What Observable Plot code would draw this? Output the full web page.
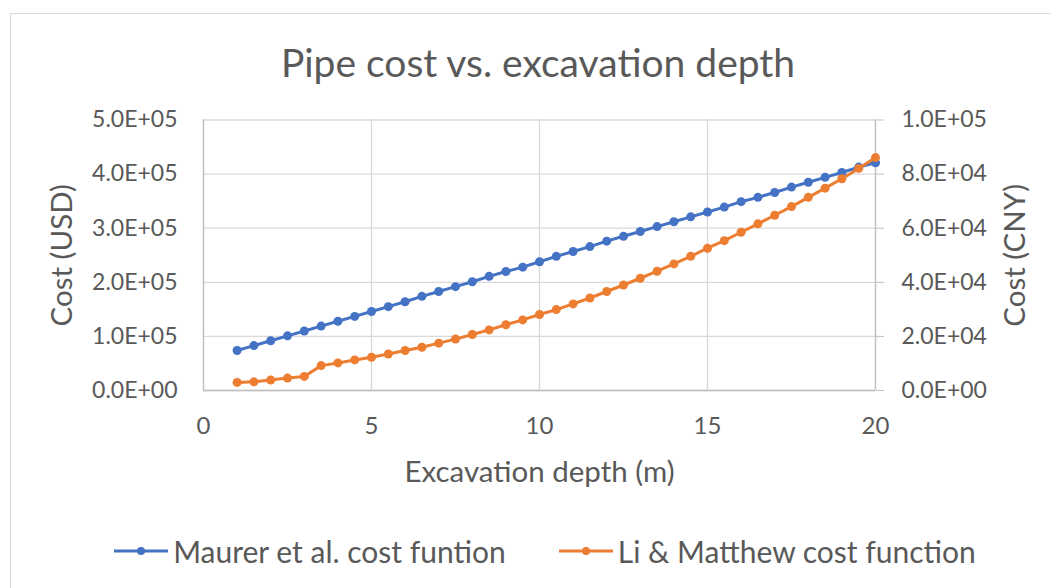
<!DOCTYPE html>
<html>
<head>
<meta charset="utf-8">
<script src="https://cdn.jsdelivr.net/npm/d3@7"></script>
<script src="https://cdn.jsdelivr.net/npm/@observablehq/plot@0.6"></script>
<style>
  html, body { margin: 0; padding: 0; background: #fff; }
  #wrap { position: relative; width: 1051px; height: 588px; overflow: hidden; font-family: Lato, "Open Sans", sans-serif; color: #595959; }
  #border { position: absolute; left: 10px; top: 13px; width: 1200px; height: 800px; border: 1.5px solid #d9d9d9; box-sizing: border-box; pointer-events: none; }
  #title { position: relative; height: 95px; box-sizing: border-box; padding-top: 41px; text-align: center; font-size: 39px; line-height: 42px; padding-left: 25px; white-space: nowrap; }
  #chart { position: relative; height: 410px; }
  #chart svg { display: block; }
  #legend { position: relative; height: 83px; display: flex; align-items: center; justify-content: center; gap: 53px; font-size: 30px; padding-left: 39px; padding-top: 8px; box-sizing: border-box; }
  .item { display: flex; align-items: center; gap: 5px; white-space: nowrap; }
</style>
</head>
<body>
<div id="wrap">
  <div id="border"></div>
  <div id="title"></div>
  <div id="chart"></div>
  <div id="legend"></div>
</div>
<script>
// ---- data ----
const titleText = "Pipe cost vs. excavation depth";
const xLabel = "Excavation depth (m)";
const yLeftLabel = "Cost (USD)";
const yRightLabel = "Cost (CNY)";
const seriesNames = ["Maurer et al. cost funtion", "Li & Matthew cost function"];
const seriesColors = ["#4472C4", "#ED7D31"];
const xTicks = [0, 5, 10, 15, 20];
const yLeftTicks = [0, 100000, 200000, 300000, 400000, 500000];
const yRightTicks = [0, 20000, 40000, 60000, 80000, 100000];
const depth = [1, 1.5, 2, 2.5, 3, 3.5, 4, 4.5, 5, 5.5, 6, 6.5, 7, 7.5, 8, 8.5, 9, 9.5, 10,
  10.5, 11, 11.5, 12, 12.5, 13, 13.5, 14, 14.5, 15, 15.5, 16, 16.5, 17, 17.5, 18, 18.5, 19, 19.5, 20];
const maurerUSD = [74000, 83000, 92000, 101000, 110000, 119000, 128000, 137000, 146000, 155000,
  164000, 174000, 183000, 192000, 201000, 211000, 220000, 228000, 238000,
  248000, 257000, 266000, 276000, 285000, 294000, 303000, 312000, 321000, 330000,
  339000, 349000, 357000, 366000, 376000, 385000, 394000, 403000, 413000, 421000];
const liCNY = [3000, 3200, 3900, 4600, 5200, 9200, 10200, 11300, 12300, 13500,
  14800, 16000, 17500, 19000, 20700, 22400, 24300, 26100, 28100,
  29900, 32000, 34200, 36600, 39000, 41500, 44100, 46800, 49600, 52600,
  55400, 58500, 61600, 64800, 68000, 71400, 74800, 78300, 82100, 86100];

// right axis (CNY) maps onto left axis (USD) scale: 1.0E+05 CNY <-> 5.0E+05 USD
const cnyToLeft = yLeftTicks[yLeftTicks.length - 1] / yRightTicks[yRightTicks.length - 1];

const fmtE = d => {
  const [m, e] = (+d).toExponential(1).split("e");
  return m + "E" + e[0] + e.slice(1).padStart(2, "0");
};

const maurerRows = depth.map((d, i) => ({depth: d, v: maurerUSD[i]}));
const liRows = depth.map((d, i) => ({depth: d, v: liCNY[i] * cnyToLeft}));

document.getElementById("title").textContent = titleText;

const gridColor = "#d9d9d9";
const axisColor = "#bfbfbf";
const textColor = "#595959";

const plot = Plot.plot({
  width: 1051,
  height: 410,
  marginLeft: 203,
  marginRight: 176,
  marginTop: 24.5,
  marginBottom: 115,
  style: {fontFamily: "Lato, 'Open Sans', sans-serif", color: textColor, background: "transparent"},
  x: {domain: [0, 20]},
  y: {domain: [0, 500000]},
  marks: [
    Plot.gridY(yLeftTicks, {stroke: gridColor, strokeOpacity: 1, strokeWidth: 1.3}),
    Plot.gridX(xTicks, {stroke: gridColor, strokeOpacity: 1, strokeWidth: 1.3}),
    Plot.ruleX([0], {stroke: axisColor, strokeWidth: 1.3}),
    Plot.ruleX([20], {stroke: axisColor, strokeWidth: 1.3}),
    Plot.ruleY([0], {stroke: axisColor, strokeWidth: 1.3}),
    Plot.axisX({ticks: xTicks, tickSize: 0, tickPadding: 26, fontSize: 24, fill: textColor,
      label: xLabel, labelAnchor: "center", labelArrow: "none", labelOffset: 91}),
    Plot.axisY({anchor: "left", ticks: yLeftTicks, tickSize: 0, tickPadding: 26, fontSize: 23, fill: textColor,
      tickFormat: fmtE, label: yLeftLabel, labelAnchor: "center", labelArrow: "none", labelOffset: 152}),
    Plot.axisY({anchor: "right", ticks: yRightTicks.map(t => t * cnyToLeft), tickSize: 8, tickPadding: 18, fontSize: 23,
      fill: textColor, stroke: axisColor, strokeOpacity: 1, tickFormat: d => fmtE(d / cnyToLeft),
      label: yRightLabel, labelAnchor: "center", labelArrow: "none", labelOffset: 149}),
    Plot.lineY(maurerRows, {x: "depth", y: "v", stroke: seriesColors[0], strokeWidth: 3}),
    Plot.dot(maurerRows, {x: "depth", y: "v", fill: seriesColors[0], r: 4.5}),
    Plot.lineY(liRows, {x: "depth", y: "v", stroke: seriesColors[1], strokeWidth: 3}),
    Plot.dot(liRows, {x: "depth", y: "v", fill: seriesColors[1], r: 4.5})
  ]
});
// larger font for the axis titles
plot.querySelectorAll("g[aria-label='x-axis label'], g[aria-label='y-axis label']").forEach(g => {
  g.setAttribute("font-size", 29.5);
  g.querySelectorAll("text").forEach(t => t.setAttribute("font-size", 29.5));
});
document.getElementById("chart").appendChild(plot);

// legend
const legend = document.getElementById("legend");
seriesNames.forEach((name, i) => {
  const item = document.createElement("div");
  item.className = "item";
  item.innerHTML = `<svg width="54" height="12"><line x1="0" y1="6" x2="54" y2="6" stroke="${seriesColors[i]}" stroke-width="3"/><circle cx="27" cy="6" r="4" fill="${seriesColors[i]}"/></svg><span></span>`;
  item.querySelector("span").textContent = name;
  legend.appendChild(item);
});
</script>
</body>
</html>
